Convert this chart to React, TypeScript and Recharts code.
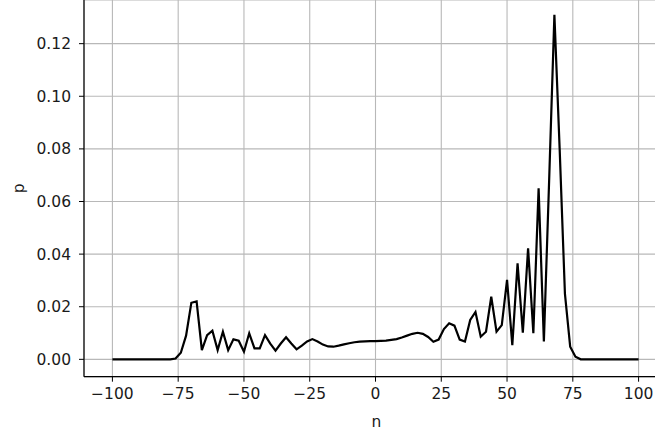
import { LineChart, Line, XAxis, YAxis, CartesianGrid } from 'recharts';

// positions of the walker (only even sites are reachable after 100 steps)
const positions = [
  -100, -98, -96, -94, -92, -90, -88, -86, -84, -82, -80, -78, -76, -74, -72, -70, -68,
  -66, -64, -62, -60, -58, -56, -54, -52, -50, -48, -46, -44, -42, -40, -38, -36, -34,
  -32, -30, -28, -26, -24, -22, -20, -18, -16, -14, -12, -10, -8, -6, -4, -2, 0,
  2, 4, 6, 8, 10, 12, 14, 16, 18, 20, 22, 24, 26, 28, 30, 32, 34,
  36, 38, 40, 42, 44, 46, 48, 50, 52, 54, 56, 58, 60, 62, 64, 66, 68,
  70, 72, 74, 76, 78, 80, 82, 84, 86, 88, 90, 92, 94, 96, 98, 100,
];

// probability, one per position
const probabilities = [
  0, 0, 0, 0, 0, 0, 0, 0, 0, 0, 0, 0, 0.0003, 0.0025, 0.009, 0.0215, 0.022,
  0.0035, 0.0092, 0.0109, 0.0035, 0.0105, 0.0035, 0.0076, 0.0071, 0.0029, 0.0099, 0.0042, 0.0042, 0.0092, 0.006, 0.0033, 0.006, 0.0084,
  0.006, 0.0038, 0.0052, 0.0068, 0.0077, 0.0068, 0.0056, 0.0049, 0.0048, 0.0052, 0.0057, 0.0061, 0.0065, 0.0067, 0.0068, 0.0069, 0.0069,
  0.007, 0.0071, 0.0074, 0.0077, 0.0083, 0.009, 0.0097, 0.0101, 0.0097, 0.0085, 0.0067, 0.0075, 0.0115, 0.0137, 0.0128, 0.0075, 0.0068,
  0.015, 0.018, 0.0086, 0.0105, 0.0238, 0.0105, 0.013, 0.0302, 0.0054, 0.0365, 0.0101, 0.0422, 0.0099, 0.065, 0.0068, 0.068, 0.131,
  0.08, 0.025, 0.0048, 0.001, 0, 0, 0, 0, 0, 0, 0, 0, 0, 0, 0, 0,
];

const xTicks = [-100, -75, -50, -25, 0, 25, 50, 75, 100];
const yTicks = [0, 0.02, 0.04, 0.06, 0.08, 0.1, 0.12];

const data = positions.map((n, i) => ({ n, p: probabilities[i] }));

const FONT = 'DejaVu Sans';
const FONT_SIZE = 15.5;
const tickFont = { fontFamily: FONT, fontSize: FONT_SIZE, fill: '#1a1a1a' };

// matplotlib style minus sign
const fmtX = (v: number) => (v < 0 ? `\u2212${Math.abs(v)}` : `${v}`);

export default function App() {
  return (
    <div
      style={{
        position: 'absolute',
        left: 0,
        top: 0,
        width: 655,
        height: 436,
        overflow: 'hidden',
        background: '#fff',
      }}
    >
      <LineChart
        width={667}
        height={436}
        data={data}
        margin={{ top: 0, right: 0, bottom: 0, left: 0 }}
      >
        <CartesianGrid stroke="#b8b8b8" strokeWidth={1.1} />
        <XAxis
          type="number"
          dataKey="n"
          domain={[-110.8, 110.8]}
          ticks={xTicks}
          interval={0}
          allowDataOverflow
          tickFormatter={fmtX}
          tick={tickFont}
          tickSize={5}
          tickMargin={6}
          height={59.3}
          stroke="#000"
          axisLine={{ stroke: '#000', strokeWidth: 1.2 }}
          label={{
            content: (props: any) => {
              const vb = props.viewBox;
              return (
                <text
                  x={vb.x + vb.width / 2 + 1}
                  y={vb.y + 50}
                  textAnchor="middle"
                  fontFamily={FONT}
                  fontSize={FONT_SIZE}
                  fill="#1a1a1a"
                >
                  n
                </text>
              );
            },
          }}
        />
        <YAxis
          type="number"
          domain={[-0.0066, 0.1366]}
          ticks={yTicks}
          interval={0}
          allowDataOverflow
          tickFormatter={(v: number) => v.toFixed(2)}
          tick={tickFont}
          tickSize={5}
          tickMargin={8}
          width={84}
          stroke="#000"
          axisLine={{ stroke: '#000', strokeWidth: 1.2 }}
          label={{
            content: (props: any) => {
              const vb = props.viewBox;
              const cy = vb.y + vb.height / 2;
              return (
                <text
                  x={19}
                  y={cy}
                  textAnchor="middle"
                  dominantBaseline="central"
                  transform={`rotate(-90 19 ${cy})`}
                  fontFamily={FONT}
                  fontSize={FONT_SIZE}
                  fill="#1a1a1a"
                >
                  p
                </text>
              );
            },
          }}
        />
        <Line
          type="linear"
          dataKey="p"
          stroke="#000"
          strokeWidth={2.2}
          dot={false}
          isAnimationActive={false}
        />
      </LineChart>
    </div>
  );
}
